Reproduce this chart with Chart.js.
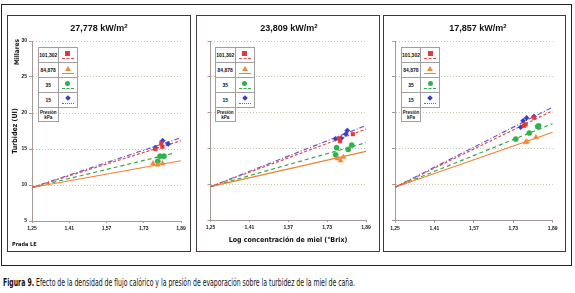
<!doctype html>
<html lang="es">
<head>
<meta charset="utf-8">
<title>Figura 9</title>
<script src="https://cdn.jsdelivr.net/npm/chart.js@4.4.0/dist/chart.umd.min.js"></script>
<style>
  body { margin:0; width:575px; height:293px; background:#fff; position:relative; overflow:hidden;
         font-family:"Liberation Sans", Arial, sans-serif; color:#111; }
  .frame { position:absolute; left:1px; top:4px; width:571px; height:262px; border:1px solid #222; box-sizing:border-box; }
  .panel { position:absolute; top:15px; height:237px; border:1px solid #3a3a3a; box-sizing:border-box; background:#fff; }
  canvas { position:absolute; }
  .ttl { position:absolute; top:23px; width:180px; text-align:center; font-weight:bold; font-size:9px; }
  .ttl sup { font-size:6px; vertical-align:3px; line-height:0; }
  .narrow { font-family:"Liberation Sans Narrow","DejaVu Sans Condensed", Arial, sans-serif; font-weight:bold; }
  .rot { position:absolute; transform:translate(-50%,-50%) rotate(-90deg); white-space:nowrap; }
  .cell { position:absolute; border:1px solid #a0a0a0; box-sizing:border-box; background:#fff;
          font-size:5px; font-weight:bold; text-align:center; }
  .mk { position:absolute; left:50%; top:3px; }
  .ln { position:absolute; left:3px; right:3px; top:10px; height:0; }
  #caption { position:absolute; left:3px; top:276px; font-size:10.5px; white-space:nowrap; transform-origin:0 0;
             font-family:"Liberation Sans Narrow","DejaVu Sans Condensed", Arial, sans-serif; }
</style>
</head>
<body>
<div class="frame"></div>
<div class="panel" style="left:7px;width:184px"></div>
<div class="panel" style="left:196px;width:184px;border-color:#4a3c3c"></div>
<div class="panel" style="left:383px;width:183px"></div>

<canvas id="c1" width="182" height="235" style="left:8px;top:16px"></canvas>
<canvas id="c2" width="181" height="235" style="left:197px;top:16px"></canvas>
<canvas id="c3" width="181" height="235" style="left:384px;top:16px"></canvas>

<div class="ttl" id="t1" style="left:9px"></div>
<div class="ttl" id="t2" style="left:199px"></div>
<div class="ttl" id="t3" style="left:388px"></div>

<div class="rot narrow" style="left:17px;top:52px;font-size:6.5px">Millares</div>
<div class="rot narrow" style="left:15px;top:131px;font-size:7px">Turbidez (UI)</div>
<div class="narrow" style="position:absolute;left:12px;top:241px;font-size:5.5px">Prada LE</div>
<div class="narrow" style="position:absolute;left:288px;top:236px;font-size:7px;transform:translateX(-50%);white-space:nowrap">Log concentración de miel (°Brix)</div>

<div id="caption"><b>Figura 9.</b> Efecto de la densidad de flujo calórico y la presión de evaporación sobre la turbidez de la miel de caña.</div>

<script>
// axis ticks
const xTicks = [1.25, 1.41, 1.57, 1.73, 1.89];
const yTicks = [5, 10, 15, 20, 25, 30];
const fluxLabels = ['27,778', '23,809', '17,857'];
const pressures = ['101,302', '84,878', '35', '15'];
// all trend lines start here
const trendStart = [1.25, 9.65];

// panel 1, 27,778 kW/m2  [log brix, turbidez]
const p1Red    = [[1.78, 15.0], [1.805, 15.8], [1.81, 15.3]];
const p1Orange = [[1.77, 13.0], [1.79, 12.8], [1.81, 13.0]];
const p1Green  = [[1.79, 13.3], [1.80, 14.0], [1.817, 14.0]];
const p1Blue   = [[1.78, 15.2], [1.811, 16.15], [1.835, 15.7]];
const p1TrendEnd = [[1.89, 16.15], [1.89, 13.37], [1.856, 14.4], [1.89, 16.57]];

// panel 2, 23,809 kW/m2
const p2Red    = [[1.779, 16.4], [1.783, 16.0], [1.836, 17.0]];
const p2Orange = [[1.773, 13.6], [1.785, 13.3], [1.797, 13.8]];
const p2Green  = [[1.765, 14.1], [1.769, 15.1], [1.817, 14.86], [1.831, 15.46]];
const p2Blue   = [[1.765, 16.35], [1.788, 16.4], [1.807, 17.0], [1.813, 17.5]];
const p2TrendEnd = [[1.89, 17.7], [1.89, 14.6], [1.89, 15.8], [1.89, 18.2]];

// panel 3, 17,857 kW/m2
const p3Red    = [[1.773, 18.2], [1.78, 18.4], [1.814, 19.35]];
const p3Orange = [[1.78, 15.9], [1.785, 16.0], [1.822, 16.6]];
const p3Green  = [[1.74, 16.35], [1.795, 17.2], [1.829, 18.1], [1.833, 18.2]];
const p3Blue   = [[1.76, 18.0], [1.77, 18.9], [1.784, 19.3], [1.814, 19.5]];
const p3TrendEnd = [[1.89, 20.3], [1.89, 17.3], [1.89, 18.5], [1.89, 20.8]];

// red, orange, green, blue
const markColors = ['#e23a3a', '#f08a3a', '#2cb24a', '#3c3cc0'];
const lineColors = ['#e05050', '#f08030', '#38a848', '#6a5ccc'];
const marks = ['rect', 'triangle', 'circle', 'rectRot'];
const dashes = [[3, 2], [], [4, 3], [5, 2, 1, 2]];

const FONT = "'Liberation Sans', Arial, sans-serif";

function toXY(arr) { return arr.map(p => ({x: p[0], y: p[1]})); }

function makeChart(id, series, trendEnds, box, showY) {
  const cv = document.getElementById(id);
  const W = cv.width, H = cv.height;
  const xH = 15;
  const datasets = [];
  series.forEach((s, i) => {
    datasets.push({
      data: toXY(s), showLine: false, pointStyle: marks[i],
      pointRadius: i == 1 ? 3 : 2.6, backgroundColor: markColors[i], borderColor: markColors[i], borderWidth: 0.5
    });
  });
  trendEnds.forEach((e, i) => {
    datasets.push({
      data: toXY([trendStart, e]), showLine: true, pointRadius: 0,
      borderColor: lineColors[i], borderWidth: 1.2, borderDash: dashes[i], fill: false
    });
  });
  new Chart(cv, {
    type: 'scatter',
    data: { datasets: datasets },
    options: {
      responsive: false, animation: false, devicePixelRatio: 1,
      layout: { padding: { top: box.T, right: W - box.R, bottom: H - box.B - xH, left: 0 } },
      plugins: { legend: { display: false }, tooltip: { enabled: false } },
      scales: {
        x: {
          type: 'linear', min: xTicks[0], max: xTicks[xTicks.length - 1],
          afterFit: s => { s.height = xH; },
          afterBuildTicks: s => { s.ticks = xTicks.map(v => ({value: v})); },
          grid: { display: true, drawOnChartArea: false, tickLength: 2, color: '#a89898' },
          border: { color: '#a89898', width: 1 },
          ticks: { padding: 3, color: '#222', font: { family: FONT, size: 5, weight: 'bold' },
                   callback: v => v.toFixed(2).replace('.', ',') }
        },
        y: {
          min: yTicks[0], max: yTicks[yTicks.length - 1],
          afterFit: s => { s.width = box.L; },
          afterBuildTicks: s => { s.ticks = yTicks.map(v => ({value: v})); },
          grid: { color: c => c.tick && c.tick.value == yTicks[0] ? 'rgba(0,0,0,0)' : '#c4c4a8',
                  lineWidth: 1, tickLength: 3, drawTicks: true, tickColor: '#a89898',
                  tickBorderDash: [] },
          border: { color: '#a89898', width: 1, dash: [1, 2] },
          ticks: { display: showY, padding: 2, color: '#222', font: { family: FONT, size: 5, weight: 'bold' } }
        }
      }
    }
  });
}

makeChart('c1', [p1Red, p1Orange, p1Green, p1Blue], p1TrendEnd, {L: 24, T: 25, R: 173, B: 205}, true);
makeChart('c2', [p2Red, p2Orange, p2Green, p2Blue], p2TrendEnd, {L: 13.5, T: 25, R: 169, B: 204}, false);
makeChart('c3', [p3Red, p3Orange, p3Green, p3Blue], p3TrendEnd, {L: 11, T: 25, R: 168.7, B: 204.7}, false);

// titles
['t1', 't2', 't3'].forEach((id, i) => {
  document.getElementById(id).innerHTML = fluxLabels[i] + ' kW/m<sup>2</sup>';
});

// legend boxes
const legendLeft = [38, 215, 400.7];
const lineStyle = ['dashed', 'solid', 'dashed', 'dotted'];
legendLeft.forEach(left => {
  const top = 46.5, rh = 15, c1 = 19.5, c2 = 19;
  pressures.forEach((p, i) => {
    const a = document.createElement('div');
    a.className = 'cell';
    a.style.cssText = `left:${left}px;top:${top + i * rh}px;width:${c1 + 1}px;height:${rh + 1}px;line-height:${rh}px`;
    a.textContent = p;
    document.body.appendChild(a);
    const b = document.createElement('div');
    b.className = 'cell';
    b.style.cssText = `left:${left + c1}px;top:${top + i * rh}px;width:${c2 + 1}px;height:${rh + 1}px`;
    const mk = document.createElement('div');
    mk.className = 'mk';
    const col = markColors[i];
    if (i == 0) mk.style.cssText += `width:5px;height:5px;margin-left:-2.5px;background:${col}`;
    if (i == 1) mk.style.cssText += `width:0;height:0;margin-left:-3px;border-left:3px solid transparent;border-right:3px solid transparent;border-bottom:5px solid ${col}`;
    if (i == 2) mk.style.cssText += `width:5px;height:5px;margin-left:-2.5px;border-radius:50%;background:${col}`;
    if (i == 3) mk.style.cssText += `width:4px;height:4px;margin-left:-2px;top:3.5px;transform:rotate(45deg);background:${col}`;
    b.appendChild(mk);
    const ln = document.createElement('div');
    ln.className = 'ln';
    ln.style.borderTop = `1.3px ${lineStyle[i]} ${lineColors[i]}`;
    b.appendChild(ln);
    document.body.appendChild(b);
  });
  const pr = document.createElement('div');
  pr.className = 'cell';
  pr.style.cssText = `left:${left}px;top:${top + 4 * rh}px;width:${c1 + 1}px;height:15px;font-size:4.5px;line-height:5px;padding-top:2px`;
  pr.innerHTML = 'Presión<br>kPa';
  document.body.appendChild(pr);
});

// squeeze caption to the printed width
const cap = document.getElementById('caption');
const capW = cap.getBoundingClientRect().width;
cap.style.transform = `scaleX(${352 / capW})`;
</script>
</body>
</html>
